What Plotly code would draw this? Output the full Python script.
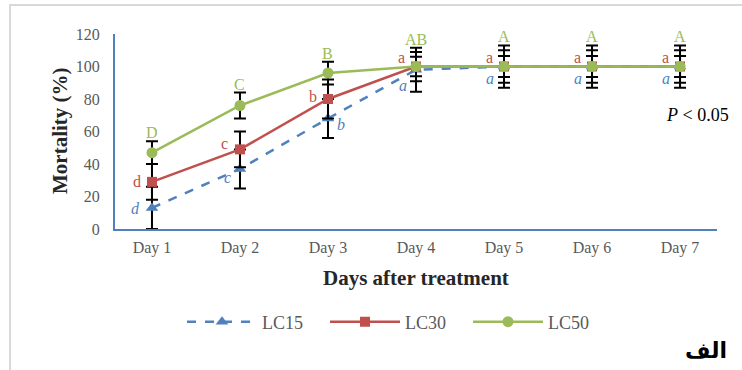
import plotly.graph_objects as go

# Days after treatment and mortality (%) per concentration
days = ["Day 1", "Day 2", "Day 3", "Day 4", "Day 5", "Day 6", "Day 7"]

lc15 = [13, 37, 68, 98, 100, 100, 100]
lc15_err = [13, 12, 12, 13.5, 13, 13, 13]
lc15_groups = ["d", "c", "b", "a", "a", "a", "a"]

lc30 = [29, 49, 80, 100, 100, 100, 100]
lc30_err = [11, 11, 12, 9, 10, 10, 10]
lc30_groups = ["d", "c", "b", "a", "a", "a", "a"]

lc50 = [47, 76, 96, 100, 100, 100, 100]
lc50_err = [7, 8, 7, 6, 6.5, 6.5, 6.5]
lc50_groups = ["D", "C", "B", "AB", "A", "A", "A"]

BLUE = "#4F81BD"
RED = "#C0504D"
GREEN = "#9BBB59"
SERIF = "Liberation Serif"

# plot area in pixels
W, H = 742, 370
L, R, T, B = 115, 25, 34, 141
PW = W - L - R
PH = H - T - B


def px_x(px):
    return (px - L) / PW


def px_y(py):
    return (H - B - py) / PH


def err(vals):
    return dict(type="data", array=vals, visible=True, color="black",
                thickness=2, width=6)


fig = go.Figure()
fig.add_trace(go.Scatter(
    x=days, y=lc15, name="LC15", mode="lines+markers",
    line=dict(color=BLUE, width=2.5, dash="dash"),
    marker=dict(symbol="triangle-up", size=11, color=BLUE),
    error_y=err(lc15_err)))
fig.add_trace(go.Scatter(
    x=days, y=lc30, name="LC30", mode="lines+markers",
    line=dict(color=RED, width=2.5),
    marker=dict(symbol="square", size=10, color=RED),
    error_y=err(lc30_err)))
fig.add_trace(go.Scatter(
    x=days, y=lc50, name="LC50", mode="lines+markers",
    line=dict(color=GREEN, width=2.5),
    marker=dict(symbol="circle", size=11, color=GREEN),
    error_y=err(lc50_err)))

ann = []
# group letters for LC50: above the highest error cap of the day
tops = [max(a + ea, b + eb, c + ec) for a, ea, b, eb, c, ec in
        zip(lc15, lc15_err, lc30, lc30_err, lc50, lc50_err)]
for d, top, g in zip(days, tops, lc50_groups):
    ann.append(dict(x=d, y=top, text=g, showarrow=False, yanchor="bottom",
                    xanchor="center", yshift=-2,
                    font=dict(family=SERIF, size=16, color=GREEN)))
# group letters for LC30: left of the point
red_dy = [0, 6, 3, 9, 9, 9, 9]
for d, v, g, dy in zip(days, lc30, lc30_groups, red_dy):
    ann.append(dict(x=d, y=v, text=g, showarrow=False, xshift=-15, yshift=dy,
                    font=dict(family=SERIF, size=16, color=RED)))
# group letters for LC15: italic, beside the point
blue_dx = [-16, -12, 13, -13, -14, -14, -14]
blue_dy = [-1, -9, -6, -16, -12, -12, -12]
for d, v, g, dx, dy in zip(days, lc15, lc15_groups, blue_dx, blue_dy):
    ann.append(dict(x=d, y=v, text="<i>%s</i>" % g, showarrow=False,
                    xshift=dx, yshift=dy,
                    font=dict(family=SERIF, size=16, color=BLUE)))


def note(px, py, text, size, color, family=SERIF, angle=0):
    return dict(xref="paper", yref="paper", x=px_x(px), y=px_y(py),
                xanchor="center", yanchor="middle", text=text,
                showarrow=False, textangle=angle,
                font=dict(family=family, size=size, color=color))


# axis titles and notes
ann.append(note(416, 278, "<b>Days after treatment</b>", 21, "#262626"))
ann.append(note(60, 131, "<b>Mortality (%)</b>", 21, "#262626", angle=-90))
ann.append(note(697, 115, "<i>P</i> < 0.05", 18, "black"))
ann.append(note(706, 350, "<b>الف</b>", 22, "black", family="DejaVu Sans"))

fig.update_layout(
    width=W, height=H,
    margin=dict(l=L, r=R, t=T, b=B),
    paper_bgcolor="white", plot_bgcolor="white",
    font=dict(family=SERIF, color="#595959"),
    annotations=ann,
    shapes=[dict(type="rect", xref="paper", yref="paper",
                 x0=px_x(10), x1=px_x(760), y0=px_y(390), y1=px_y(5),
                 line=dict(color="#D9D9D9", width=2), layer="below")],
    legend=dict(orientation="h", x=px_x(182), xanchor="left",
                y=px_y(322), yanchor="middle",
                font=dict(family=SERIF, size=18, color="#595959"),
                itemwidth=70, entrywidth=58, traceorder="normal"),
    xaxis=dict(showgrid=False, showline=True, linecolor=BLUE, linewidth=2,
               ticks="", ticklabelstandoff=3,
               tickfont=dict(family=SERIF, size=16, color="#595959"),
               zeroline=False),
    yaxis=dict(range=[0, 120], dtick=20, showgrid=False, showline=True,
               linecolor=BLUE, linewidth=2, ticks="", zeroline=False,
               ticklabelstandoff=10,
               tickfont=dict(family=SERIF, size=16, color="#595959")),
)

fig.write_html("out.html")
